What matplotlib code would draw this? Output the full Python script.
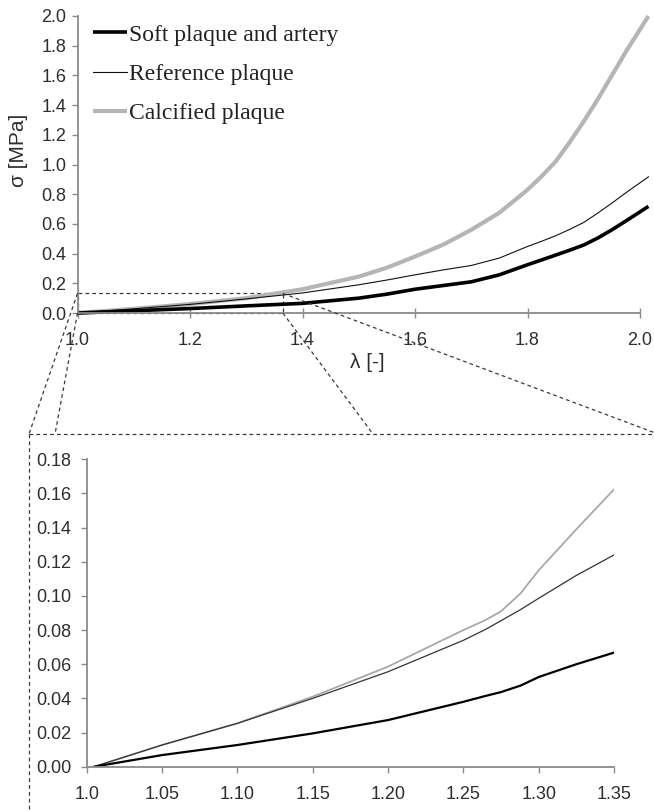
import numpy as np
import matplotlib
matplotlib.use("Agg")
import matplotlib.pyplot as plt
from matplotlib.lines import Line2D
from matplotlib.patches import Rectangle

# full range
lam_top = [1.0, 1.1, 1.2, 1.3, 1.4, 1.5, 1.55, 1.6, 1.65, 1.7, 1.75, 1.8, 1.825, 1.85,
           1.875, 1.9, 1.925, 1.95, 1.975, 2.015]
soft_top = [0, 0.015, 0.03, 0.048, 0.065, 0.1, 0.127, 0.16, 0.185, 0.21, 0.257, 0.325, 0.357, 0.39,
            0.423, 0.458, 0.505, 0.56, 0.62, 0.718]
ref_top = [0, 0.028, 0.058, 0.095, 0.135, 0.19, 0.222, 0.257, 0.29, 0.32, 0.37, 0.448, 0.483, 0.52,
           0.563, 0.61, 0.673, 0.74, 0.81, 0.917]
calc_top = [0, 0.028, 0.06, 0.1, 0.16, 0.245, 0.305, 0.38, 0.46, 0.56, 0.675, 0.83, 0.92, 1.02,
            1.15, 1.29, 1.44, 1.6, 1.76, 2.0]

# zoomed range
lam_zoom = [1.005, 1.05, 1.10, 1.15, 1.20, 1.25, 1.265, 1.275, 1.288, 1.30, 1.325, 1.35]
soft_zoom = [0, 0.0068, 0.0127, 0.0195, 0.0273, 0.038, 0.0415, 0.0437, 0.0475, 0.0525, 0.060, 0.0668]
ref_zoom = [0, 0.0127, 0.0254, 0.040, 0.0556, 0.074, 0.0805, 0.0855, 0.092, 0.0986, 0.112, 0.124]
calc_zoom = [0, 0.0127, 0.0254, 0.041, 0.0586, 0.080, 0.086, 0.091, 0.1015, 0.115, 0.139, 0.1624]

labels = ["Soft plaque and artery", "Reference plaque", "Calcified plaque"]
top_yticks = [0.0, 0.2, 0.4, 0.6, 0.8, 1.0, 1.2, 1.4, 1.6, 1.8, 2.0]
top_xticks = [1.0, 1.2, 1.4, 1.6, 1.8, 2.0]
zoom_xticks = [1.0, 1.05, 1.10, 1.15, 1.20, 1.25, 1.30, 1.35]
zoom_xlabels = ["1.0", "1.05", "1.10", "1.15", "1.20", "1.25", "1.30", "1.35"]
zoom_yticks = [0.0, 0.02, 0.04, 0.06, 0.08, 0.10, 0.12, 0.14, 0.16, 0.18]
zoom_box_x = (1.0, 1.365)
zoom_box_y = (0.0, 0.132)

W, H = 654, 811
plt.rcParams['font.family'] = ['Liberation Sans', 'DejaVu Sans']

fig = plt.figure(figsize=(W / 100, H / 100), dpi=100)

def px(x, y):
    return x / W, 1 - y / H

spine_c = '#8a8a8a'
text_c = '#2e2e2e'

def style(ax):
    for s in ['top', 'right']:
        ax.spines[s].set_visible(False)
    for s in ['left', 'bottom']:
        ax.spines[s].set_color(spine_c)
        ax.spines[s].set_linewidth(1.3)
    ax.tick_params(colors=spine_c, labelcolor=text_c, labelsize=13, width=1.0)

# upper panel
ax1 = fig.add_axes([77.5 / W, 1 - 313 / H, (640 - 77.5) / W, (313 - 16) / H])
style(ax1)
ax1.plot(lam_top, calc_top, color='#b5b5b5', lw=3.0, clip_on=False, label=labels[2], solid_capstyle='butt')
ax1.plot(lam_top, ref_top, color='#111111', lw=0.8, clip_on=False, label=labels[1])
ax1.plot(lam_top, soft_top, color='black', lw=2.6, clip_on=False, label=labels[0], solid_capstyle='butt')
ax1.set_xlim(1.0, 2.0)
ax1.set_ylim(0, 2.0)
ax1.set_xticks(top_xticks)
ax1.set_xticklabels([f"{v:.1f}" for v in top_xticks])
ax1.set_yticks(top_yticks)
ax1.set_yticklabels([f"{v:.1f}" for v in top_yticks])
ax1.tick_params(axis='x', direction='inout', length=7, pad=10)
ax1.tick_params(axis='y', direction='out', length=4, pad=4)

h, l = ax1.get_legend_handles_labels()
order = [2, 1, 0]
leg = ax1.legend([h[i] for i in order], [l[i] for i in order], loc='upper left',
                 bbox_to_anchor=px(93, 24), bbox_transform=fig.transFigure,
                 frameon=False, borderpad=0, borderaxespad=0, handlelength=1.44,
                 handletextpad=0.09, labelspacing=0.76,
                 prop={'family': 'Liberation Serif', 'size': 17})
for t in leg.get_texts():
    t.set_color('#222222')

fig.text(*px(19, 150), "σ [MPa]", rotation=90, ha='center', va='center', fontsize=15, color=text_c)
fig.text(*px(367, 362), "λ [-]", ha='center', va='center', fontsize=15, color=text_c)

# lower panel
ax2 = fig.add_axes([86.7 / W, 1 - 766.7 / H, (614 - 86.7) / W, (766.7 - 459.3) / H])
style(ax2)
ax2.plot(lam_zoom, calc_zoom, color='#a8a8a8', lw=1.3)
ax2.plot(lam_zoom, ref_zoom, color='#333333', lw=0.9)
ax2.plot(lam_zoom, soft_zoom, color='black', lw=1.6)
ax2.set_xlim(1.0, 1.35)
ax2.set_ylim(0, 0.18)
ax2.set_xticks(zoom_xticks)
ax2.set_xticklabels(zoom_xlabels)
ax2.set_yticks(zoom_yticks)
ax2.set_yticklabels([f"{v:.2f}" for v in zoom_yticks])
ax2.tick_params(axis='x', direction='out', length=4, pad=10)
ax2.tick_params(axis='y', direction='out', length=4, pad=7)

# zoom box and connectors
dash = dict(color='#3a3a3a', lw=0.9, linestyle=(0, (3, 2.5)))
ax1.add_patch(Rectangle((zoom_box_x[0], zoom_box_y[0]), zoom_box_x[1] - zoom_box_x[0],
                        zoom_box_y[1] - zoom_box_y[0], fill=False, clip_on=False, **dash))

to_fig = fig.transFigure.inverted()
def corner(x, y):
    return to_fig.transform(ax1.transData.transform((x, y)))

links = [
    (corner(zoom_box_x[0], zoom_box_y[1]), px(29, 434)),
    (corner(zoom_box_x[0], zoom_box_y[0]), px(55, 434)),
    (corner(zoom_box_x[1], zoom_box_y[0]), px(373, 434)),
    (corner(zoom_box_x[1], zoom_box_y[1]), px(658, 434)),
]
for a, b in links:
    fig.add_artist(Line2D([a[0], b[0]], [a[1], b[1]], transform=fig.transFigure, **dash))

tl = px(29, 434)
fig.add_artist(Line2D([tl[0], 1.0], [tl[1], tl[1]], transform=fig.transFigure, **dash))
fig.add_artist(Line2D([tl[0], tl[0]], [tl[1], 0.0], transform=fig.transFigure, **dash))

fig.savefig('out.png', dpi=100)
